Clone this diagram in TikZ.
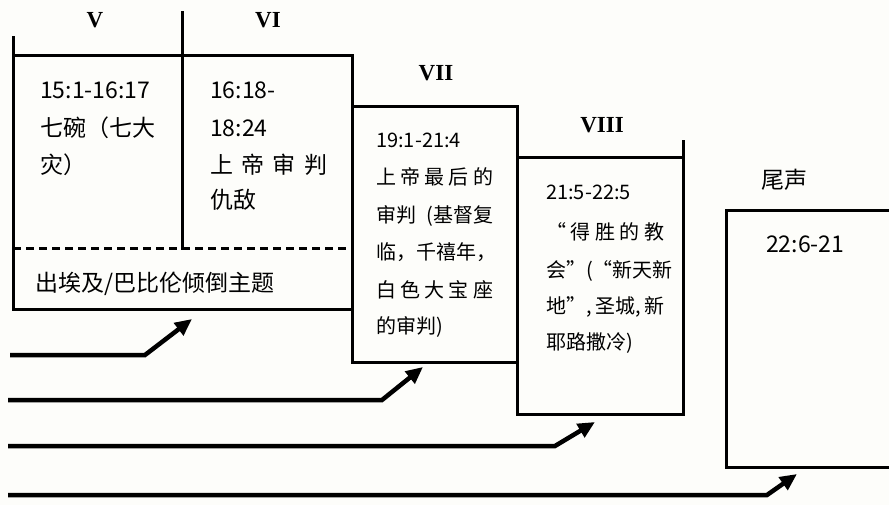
\documentclass[tikz,border=0pt]{standalone}
\usepackage{fontspec}
\setmainfont{Noto Sans CJK SC}
\newfontfamily\romfont{Liberation Serif}
\usetikzlibrary{arrows.meta}
\definecolor{bgcol}{RGB}{253,253,250}
\newcommand{\jline}[2]{\makebox[#1][l]{#2}}
\begin{document}
\begin{tikzpicture}[x=1pt,y=-1pt,
  frame/.style={line width=3pt, line cap=rect, line join=miter},
  dashline/.style={line width=3pt, dash pattern=on 8pt off 5pt},
  flow/.style={line width=4.5pt, line join=miter, -{Triangle[length=17pt,width=15pt]}},
  rnum/.style={font=\romfont\bfseries\fontsize{23}{23}\selectfont, inner sep=0},
  txt/.style={anchor=base west, inner sep=0, font=\fontsize{23}{23}\selectfont},
  txts/.style={anchor=base west, inner sep=0, font=\fontsize{20}{20}\selectfont}]
\fill[bgcol] (0,0) rectangle (889,505);
\useasboundingbox (0,0) rectangle (889,505);

% frames
\draw[frame] (13,38) -- (13,309) -- (352,309);
\draw[frame] (13,56) -- (352,56) -- (352,362) -- (517,362);
\draw[frame] (182,13) -- (182,249);
\draw[frame] (352,107) -- (517,107) -- (517,414) -- (683,414) -- (683,142);
\draw[frame] (517,158) -- (683,158);
\draw[frame] (892,211) -- (726,211) -- (726,467) -- (892,467);
\draw[dashline] (13,249) -- (352,249);

% headings
\node[rnum] (h5) at (95,20) {V};
\node[rnum] (h6) at (268,20) {VI};
\node[rnum] (h7) at (436,73) {VII};
\node[rnum] (h8) at (602,125) {VIII};
\node[inner sep=0, font=\fontsize{23}{23}\selectfont] (h9) at (784,180) {尾声};

% box V
\node[txt] (v1) at (40,99) {15:1-16:17};
\node[txt] (v2) at (40,137) {七碗（七大};
\node[txt] (v3) at (40,174) {灾）};
% box VI
\node[txt] (w1) at (210,99) {16:18-};
\node[txt] (w2) at (210,137) {18:24};
\node[txt] (w3) at (210,174) {\jline{117pt}{上\hfill 帝\hfill 审\hfill 判}};
\node[txt] (w4) at (210,209) {仇敌};
% strip
\node[txt] (s1) at (35,291) {出埃及/巴比伦倾倒主题};
% box VII
\node[txts] (x1) at (376,148) {19:1-21:4};
\node[txts] (x2) at (376,185) {\jline{117pt}{上\hfill 帝\hfill 最\hfill 后\hfill 的}};
\node[txts] (x3) at (376,223) {\jline{117pt}{审判\hfill(基督复}};
\node[txts] (x4) at (376,260) {临，千禧年，};
\node[txts] (x5) at (376,297) {\jline{117pt}{白\hfill 色\hfill 大\hfill 宝\hfill 座}};
\node[txts] (x6) at (376,333) {的审判)};
% box VIII
\node[txts] (y1) at (546,200) {21:5-22:5};
\node[txts] (y2) at (546,240) {\jline{118pt}{“\hfill 得\hfill 胜\hfill 的\hfill 教}};
\node[txts] (y3) at (546,277) {\jline{118pt}{会”\hfill(“新天新}};
\node[txts] (y4) at (546,313) {\jline{118pt}{地”,\hfill 圣城,\hfill 新}};
\node[txts] (y5) at (546,349) {耶路撒冷)};
% epilogue
\node[txt] (z1) at (766,252) {22:6-21};

% arrows
\coordinate (a1s) at (10,355); \coordinate (a1b) at (145,355); \coordinate (a1t) at (192,319);
\coordinate (a2s) at (8,400);  \coordinate (a2b) at (382,400); \coordinate (a2t) at (423,367);
\coordinate (a3s) at (8,446);  \coordinate (a3b) at (555,446); \coordinate (a3t) at (595,422);
\coordinate (a4s) at (8,495);  \coordinate (a4b) at (767,495); \coordinate (a4t) at (797,474);
\draw[flow] (a1s) -- (a1b) -- (a1t);
\draw[flow] (a2s) -- (a2b) -- (a2t);
\draw[flow] (a3s) -- (a3b) -- (a3t);
\draw[flow] (a4s) -- (a4b) -- (a4t);
\end{tikzpicture}
\end{document}
